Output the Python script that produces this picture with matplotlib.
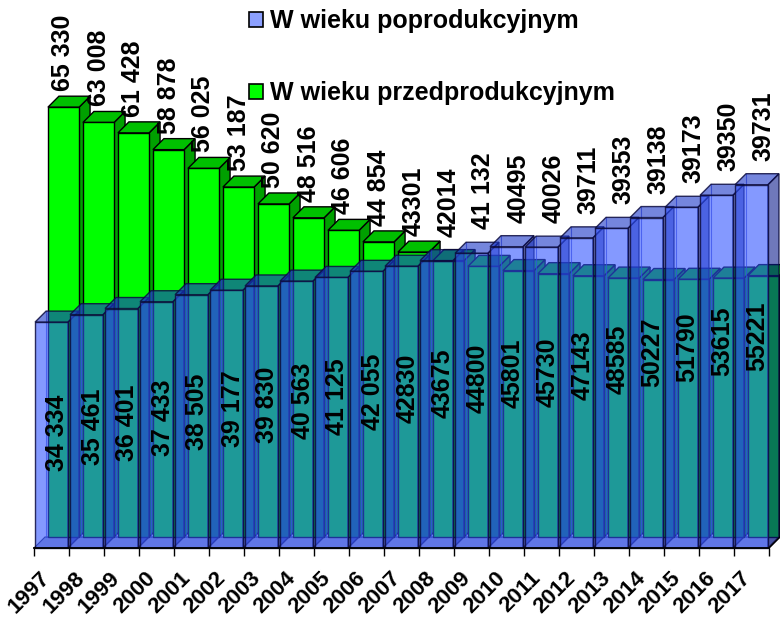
import numpy as np
import matplotlib.pyplot as plt
from matplotlib.patches import Polygon, Patch

years = [str(y) for y in range(1997, 2018)]
# W wieku przedprodukcyjnym (back row, green)
przed = [65330, 63008, 61428, 58878, 56025, 53187, 50620, 48516, 46606, 44854,
         43301, 42014, 41132, 40495, 40026, 39711, 39353, 39138, 39173, 39350, 39731]
przed_lab = ['65 330', '63 008', '61 428', '58 878', '56 025', '53 187', '50 620',
             '48 516', '46 606', '44 854', '43301', '42014', '41 132', '40495',
             '40026', '39711', '39353', '39138', '39173', '39350', '39731']
# W wieku poprodukcyjnym (front row, translucent blue)
popro = [34334, 35461, 36401, 37433, 38505, 39177, 39830, 40563, 41125, 42055,
         42830, 43675, 44800, 45801, 45730, 47143, 48585, 50227, 51790, 53615, 55221]
popro_lab = ['34 334', '35 461', '36 401', '37 433', '38 505', '39 177', '39 830',
             '40 563', '41 125', '42 055', '42830', '43675', '44800', '45801',
             '45730', '47143', '48585', '50227', '51790', '53615', '55221']

plt.rcParams['font.family'] = ['Liberation Sans', 'DejaVu Sans']
plt.rcParams['font.weight'] = 'bold'

# fake 3d: pixel sizes expressed in data units
PX = 152.0        # value units per pixel (vertical)
XP = 1 / 35.0     # category units per pixel (horizontal)
dxd, dyd = 11 * XP, 11 * PX   # depth of a bar
gx, gy = 12 * XP, 11 * PX     # offset of the back row

fig = plt.figure(figsize=(7.8, 6.17), dpi=100)
ax = fig.add_axes([0, 0, 1, 1])
ax.set_xlim(-51.5 * XP, (780 - 51.5) * XP)
ax.set_ylim(-(617 - 548) * PX, 548 * PX)
ax.axis('off')

x = np.arange(len(years))


def faces(x0, w, base, h, fc_top, fc_side, ec, z, lw=1.0):
    x1 = x0 + w
    side = [(x1, base), (x1 + dxd, base + dyd), (x1 + dxd, base + h + dyd), (x1, base + h)]
    top = [(x0, base + h), (x1, base + h), (x1 + dxd, base + h + dyd), (x0 + dxd, base + h + dyd)]
    ax.add_patch(Polygon(side, closed=True, fc=fc_side, ec=ec, lw=lw, zorder=z))
    ax.add_patch(Polygon(top, closed=True, fc=fc_top, ec=ec, lw=lw, zorder=z + 1))


# floor
floor = [(-0.5, 0), (20.5, 0), (20.5 + dxd, dyd), (-0.5 + dxd, dyd)]
ax.add_patch(Polygon(floor, closed=True, fc='#a4a8c4', ec='#303060', lw=0.8, zorder=1))

# green row
gw = 0.89
gbars = ax.bar(x + gx, przed, width=gw, bottom=gy, color='#00ff00',
               edgecolor='black', linewidth=1.0)
for i, r in enumerate(gbars):
    faces(i + gx - gw / 2, gw, gy, przed[i], '#00c000', '#00a000', 'black', 10 + 3 * i)
    r.set_zorder(10 + 3 * i + 2)

# blue row (translucent)
bw = 0.94
bc = (0.2, 0.333, 1.0, 0.6)
bec = (0.05, 0.05, 0.25, 0.85)
bbars = ax.bar(x, popro, width=bw, color=bc, edgecolor=bec, linewidth=1.0)
for i, r in enumerate(bbars):
    z = 100 + 4 * i
    x0 = i - bw / 2
    ax.plot([x0 + dxd, x0 + dxd], [dyd, popro[i] + dyd], color=(0.2, 0.25, 0.8, 0.7),
            lw=0.8, zorder=z)
    faces(x0, bw, 0, popro[i], (0.1, 0.21, 0.78, 0.6), (0.06, 0.12, 0.56, 0.6), bec, z + 1)
    r.set_zorder(z + 3)

# axis line and ticks
ax.plot([-0.5, 20.5], [0, 0], color='black', lw=1.3, zorder=300)
ax.plot([20.5, 20.5 + dxd], [0, dyd], color='black', lw=1.0, zorder=300)
ax.vlines(np.arange(len(years) + 1) - 0.5, -8 * PX, 0, color='black', lw=1.0, zorder=300)

for i, yr in enumerate(years):
    ax.text(i + 3 * XP, -20 * PX, yr, rotation=45, ha='right', va='top',
            fontsize=16, fontweight='bold', zorder=310)

# data labels
for i in range(len(years)):
    top = max(przed[i] + gy, popro[i] + 8 * PX) + dyd + 5 * PX
    ax.text(i + 12 * XP, top, przed_lab[i], rotation=90, ha='center', va='bottom',
            fontsize=18, fontweight='bold', zorder=320)
    mid = popro[i] / 2 + min(400 + 250 * i, 4600)
    ax.text(i + 6 * XP, mid, popro_lab[i], rotation=90, ha='center', va='center',
            fontsize=18, fontweight='bold', zorder=320)

handles = [Patch(fc='#8ca0ff', ec='black', lw=1.2), Patch(fc='#00ff00', ec='black', lw=1.2)]
fig.legend(handles, ['W wieku poprodukcyjnym', 'W wieku przedprodukcyjnym'],
           loc='upper left', bbox_to_anchor=(249 / 780, 1 - 9 / 617), frameon=False,
           prop={'family': 'Liberation Sans', 'weight': 'bold', 'size': 18},
           handlelength=0.55, handleheight=0.55, handletextpad=0.3,
           labelspacing=1.92, borderpad=0, borderaxespad=0)

fig.savefig('out.png', dpi=100)
